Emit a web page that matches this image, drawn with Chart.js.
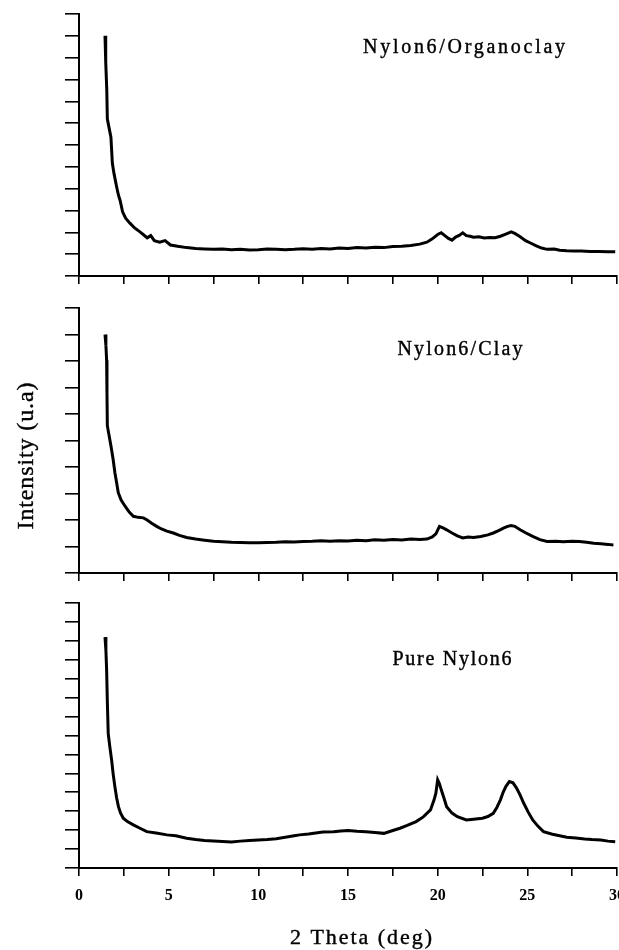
<!DOCTYPE html>
<html><head><meta charset="utf-8">
<script src="https://cdn.jsdelivr.net/npm/chart.js@4.4.1/dist/chart.umd.min.js"></script>
<style>
html,body{margin:0;padding:0;background:#fff;}
#wrap{position:relative;width:619px;height:950px;overflow:hidden;background:#fff;}
canvas{position:absolute;left:0;}
</style></head><body>
<div id="wrap">
<canvas id="c1" width="619" height="290" style="top:0px;width:619px;height:290px"></canvas>
<canvas id="c2" width="619" height="297" style="top:290px;width:619px;height:297px"></canvas>
<canvas id="c3" width="619" height="360" style="top:590px;width:619px;height:360px"></canvas>
</div>
<script>
// ---- data (2θ in degrees, intensity in arbitrary units) ----
const organoclayX = [1.45,1.48,1.5,1.55,1.58,1.65,1.78,1.86,1.95,2.1,2.2,2.29,2.43,2.6,2.84,3.1,3.4,3.7,3.8,4.0,4.2,4.5,4.8,5.1,5.5,6.0,6.5,7,7.5,8,8.5,9,9.5,10,10.5,11,11.5,12,12.5,13,13.5,14,14.5,15,15.5,16,16.5,17,17.5,18,18.5,19,19.4,19.7,20.0,20.2,20.4,20.6,20.8,21.0,21.2,21.4,21.6,21.8,22.0,22.3,22.6,22.9,23.2,23.5,23.8,24.1,24.3,24.6,24.9,25.2,25.5,25.8,26.1,26.5,26.8,27.2,27.6,28,28.5,29,29.5,29.9];
const organoclayY = [11.0,10.2,9.8,8.5,7.2,6.9,6.36,5.16,4.7,4.08,3.7,3.47,2.94,2.65,2.42,2.2,2.02,1.82,1.75,1.85,1.62,1.55,1.62,1.42,1.36,1.30,1.26,1.24,1.22,1.24,1.20,1.22,1.19,1.20,1.24,1.22,1.20,1.22,1.25,1.23,1.26,1.24,1.28,1.26,1.30,1.28,1.32,1.30,1.35,1.36,1.40,1.46,1.55,1.70,1.90,1.98,1.85,1.72,1.64,1.78,1.86,1.98,1.85,1.82,1.78,1.80,1.74,1.76,1.75,1.82,1.92,2.02,1.95,1.80,1.62,1.50,1.38,1.28,1.22,1.24,1.18,1.16,1.15,1.14,1.12,1.12,1.11,1.11];

const clayX = [1.45,1.5,1.54,1.56,1.58,1.7,1.78,1.9,2.0,2.1,2.19,2.35,2.57,2.8,3.03,3.3,3.59,3.8,4.05,4.33,4.6,4.9,5.26,5.6,6.0,6.5,7,7.5,8,8.5,9,9.5,10,10.5,11,11.5,12,12.5,13,13.5,14,14.5,15,15.5,16,16.5,17,17.5,18,18.5,19,19.4,19.7,19.9,20.1,20.3,20.5,20.8,21.1,21.4,21.7,22.0,22.4,22.8,23.1,23.4,23.7,23.9,24.1,24.3,24.6,24.9,25.3,25.7,26.1,26.6,27,27.5,27.9,28.3,28.7,29.1,29.5,29.8];
const clayY = [9.0,8.6,8.03,6.8,5.56,5.1,4.8,4.3,3.79,3.4,3.03,2.75,2.52,2.3,2.14,2.1,2.08,2.0,1.88,1.76,1.66,1.58,1.51,1.42,1.34,1.28,1.24,1.20,1.18,1.16,1.15,1.14,1.14,1.15,1.16,1.18,1.17,1.19,1.20,1.22,1.20,1.22,1.21,1.24,1.22,1.25,1.24,1.26,1.25,1.28,1.26,1.28,1.36,1.48,1.76,1.70,1.63,1.51,1.40,1.32,1.36,1.34,1.38,1.44,1.51,1.60,1.70,1.76,1.79,1.76,1.63,1.52,1.38,1.26,1.19,1.20,1.18,1.20,1.19,1.16,1.12,1.10,1.08,1.06];

const pureX = [1.45,1.5,1.54,1.58,1.63,1.72,1.82,1.9,2.0,2.1,2.2,2.32,2.47,2.7,3.03,3.4,3.78,4.3,4.9,5.4,6.0,6.5,7,7.5,8,8.5,9,9.5,10,10.5,11,11.5,12,12.3,12.8,13.2,13.6,14.2,14.6,15,15.5,16.0,16.5,17.0,17.5,17.9,18.3,18.8,19.2,19.6,19.8,19.9,20.0,20.1,20.2,20.35,20.5,20.8,21.1,21.6,22.0,22.5,22.8,23.1,23.3,23.5,23.65,23.8,24.0,24.2,24.4,24.6,24.8,25.05,25.3,25.6,25.9,26.4,26.8,27.2,27.7,28.2,28.6,29.1,29.5,29.9];
const pureY = [12.2,11.5,10.48,8.8,7.1,6.4,5.7,5.0,4.3,3.7,3.24,2.9,2.63,2.45,2.28,2.1,1.92,1.85,1.75,1.70,1.57,1.50,1.45,1.42,1.40,1.38,1.42,1.45,1.48,1.50,1.55,1.62,1.70,1.75,1.80,1.85,1.90,1.92,1.95,1.98,1.94,1.92,1.88,1.83,1.98,2.10,2.25,2.45,2.70,3.07,3.60,3.95,4.66,4.45,4.13,3.70,3.24,2.90,2.71,2.54,2.58,2.63,2.72,2.89,3.20,3.60,4.00,4.30,4.57,4.50,4.22,3.85,3.42,2.95,2.54,2.20,1.92,1.78,1.70,1.62,1.58,1.53,1.50,1.48,1.42,1.39];

const xTickValues = [0,5,10,15,20,25,30];
const panelTitles = ["Nylon6/Organoclay","Nylon6/Clay","Pure Nylon6"];
const yLabel = "Intensity (u.a)";
const xLabel = "2 Theta (deg)";
const yMax = [12, 10, 14];

function pts(xs, ys){ return xs.map((x,i)=>({x:x, y:ys[i]})); }

function fitText(ctx, text, left, cy, font, width){
  ctx.save();
  ctx.font = font;
  ctx.fillStyle = '#000';
  ctx.strokeStyle = '#000';
  ctx.lineWidth = 0.4;
  ctx.textBaseline = 'middle';
  ctx.textAlign = 'left';
  const w0 = ctx.measureText(text).width;
  const ls = (width - w0) / Math.max(1, text.length - 1);
  if ('letterSpacing' in ctx) ctx.letterSpacing = ls + 'px';
  ctx.fillText(text, left, cy);
  ctx.strokeText(text, left, cy);
  ctx.restore();
}

const textPlugin = {
  id: 'texts',
  afterDraw(chart, args, opts){
    const ctx = chart.ctx;
    (opts.items || []).forEach(it => {
      if (it.rotate){
        ctx.save();
        ctx.translate(it.cx, it.cy);
        ctx.rotate(-Math.PI/2);
        fitText(ctx, it.text, -it.width/2, 0, it.font, it.width);
        ctx.restore();
      } else {
        fitText(ctx, it.text, it.cx - it.width/2, it.cy, it.font, it.width);
      }
    });
  }
};

function makeChart(id, xs, ys, ymax, pad, xAxisH, showLabels, items){
  return new Chart(document.getElementById(id), {
    type: 'line',
    data: { datasets: [{ data: pts(xs, ys), borderColor: '#000', borderWidth: 3, pointRadius: 0, tension: 0, fill: false }] },
    options: {
      responsive: false, animation: false,
      layout: { padding: pad },
      plugins: { legend: {display:false}, tooltip: {enabled:false}, texts: { items: items } },
      scales: {
        x: {
          type: 'linear', min: 0, max: 30,
          afterFit(a){ a.height = xAxisH; a.paddingLeft = 0; a.paddingRight = 0; },
          ticks: { display: showLabels, stepSize: 2.5, autoSkip: false, maxRotation: 0, padding: 10,
                   color: '#000', font: { family: 'Liberation Serif', size: 16, weight: 'bold' },
                   callback: v => xTickValues.includes(v) ? String(v) : '' },
          grid: { drawOnChartArea: false, drawTicks: true, tickLength: 8, color: '#000', lineWidth: 1.6 },
          border: { display: true, color: '#000', width: 2 }
        },
        y: {
          type: 'linear', min: 0, max: ymax,
          afterFit(a){ a.width = 14; a.paddingTop = 0; a.paddingBottom = 0; },
          ticks: { display: false, stepSize: 1 },
          grid: { drawOnChartArea: false, drawTicks: true, tickLength: 14, color: '#000', lineWidth: 1.6 },
          border: { display: true, color: '#000', width: 2 }
        }
      }
    },
    plugins: [textPlugin]
  });
}

const titleFont = '20px "Liberation Serif"';
makeChart('c1', organoclayX, organoclayY, yMax[0], {left:65,right:2,top:14,bottom:0}, 14, false,
  [{text: panelTitles[0], cx: 464, cy: 48, width: 202, font: titleFont}]);
makeChart('c2', clayX, clayY, yMax[1], {left:65,right:2,top:18,bottom:0}, 14, false,
  [{text: panelTitles[1], cx: 460, cy: 350-290, width: 125, font: titleFont},
   {text: yLabel, cx: 27, cy: 456-290, width: 147, font: '24px "Liberation Serif"', rotate: true}]);
makeChart('c3', pureX, pureY, yMax[2], {left:65,right:2,top:13,bottom:0}, 82, true,
  [{text: panelTitles[2], cx: 452, cy: 660-590, width: 119, font: titleFont},
   {text: xLabel, cx: 361, cy: 938-590, width: 142, font: '22px "Liberation Serif"'}]);
</script>
</body></html>
